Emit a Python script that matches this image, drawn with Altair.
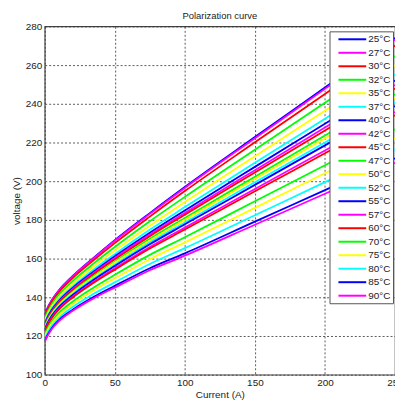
import altair as alt
import pandas as pd

# Current values (A) at which each curve was read
currents = [0, 2, 5, 10, 20, 35, 50, 75, 100, 150, 200, 250]

temps = ["25°C", "27°C", "30°C", "32°C", "35°C", "37°C", "40°C", "42°C", "45°C", "47°C",
         "50°C", "52°C", "55°C", "57°C", "60°C", "70°C", "75°C", "80°C", "85°C", "90°C"]

colors = ["#0000ff", "#ff00ff", "#ff0000", "#00ff00", "#ffff00", "#00ffff",
          "#0000ff", "#ff00ff", "#ff0000", "#00ff00", "#ffff00", "#00ffff",
          "#0000ff", "#ff00ff", "#ff0000", "#00ff00", "#ffff00", "#00ffff",
          "#0000ff", "#ff00ff"]

# Voltage (V) per temperature
v25 = [131.0, 134.5, 138.5, 143.5, 151.0, 160.5, 169.5, 183.5, 197.0, 222.8, 248.4, 274.0]
v27 = [130.8, 134.3, 138.3, 143.3, 150.8, 160.2, 169.2, 183.1, 196.5, 222.2, 247.7, 273.2]
v30 = [130.2, 133.6, 137.6, 142.5, 149.9, 159.2, 168.0, 181.7, 194.9, 220.1, 245.1, 270.1]
v32 = [129.0, 132.4, 136.3, 141.2, 148.4, 157.5, 166.0, 179.3, 191.9, 216.3, 240.5, 264.7]
v35 = [127.9, 131.3, 135.2, 140.0, 147.1, 155.9, 164.1, 177.0, 189.2, 212.9, 236.4, 259.9]
v37 = [126.9, 130.3, 134.1, 138.8, 145.7, 154.4, 162.3, 174.9, 186.6, 209.5, 232.3, 255.1]
v40 = [126.2, 129.6, 133.4, 138.0, 144.9, 153.3, 161.2, 173.4, 184.9, 207.4, 229.7, 252.0]
v42 = [125.7, 129.0, 132.8, 137.5, 144.2, 152.6, 160.3, 172.4, 183.6, 205.7, 227.7, 249.7]
v45 = [125.3, 128.6, 132.4, 137.0, 143.7, 152.0, 159.6, 171.6, 182.7, 204.5, 226.2, 247.9]
v47 = [124.7, 128.0, 131.7, 136.3, 142.9, 151.0, 158.4, 170.2, 181.0, 202.3, 223.6, 244.9]
v50 = [124.3, 127.6, 131.3, 135.8, 142.4, 150.4, 157.8, 169.4, 180.0, 201.1, 222.1, 243.1]
v52 = [123.8, 127.0, 130.7, 135.2, 141.7, 149.6, 156.8, 168.3, 178.7, 199.4, 220.0, 240.7]
v55 = [123.4, 126.6, 130.3, 134.8, 141.2, 149.1, 156.2, 167.4, 177.7, 198.1, 218.5, 238.9]
v57 = [122.7, 125.9, 129.6, 134.0, 140.3, 148.1, 155.0, 166.0, 176.0, 196.0, 215.9, 235.8]
v60 = [122.3, 125.5, 129.2, 133.6, 139.9, 147.5, 154.3, 165.2, 175.0, 194.8, 214.4, 234.1]
v70 = [120.8, 123.9, 127.5, 131.8, 137.8, 145.1, 151.6, 161.9, 171.0, 189.6, 208.2, 226.8]
v75 = [119.7, 122.8, 126.4, 130.6, 136.5, 143.6, 149.7, 159.7, 168.4, 186.2, 204.1, 222.0]
v80 = [118.5, 121.6, 125.1, 129.2, 135.0, 141.8, 147.7, 157.2, 165.4, 182.4, 199.5, 216.5]
v85 = [117.5, 120.5, 124.0, 128.1, 133.6, 140.2, 145.9, 155.0, 162.7, 179.1, 195.4, 211.8]
v90 = [117.0, 120.0, 123.5, 127.5, 133.0, 139.5, 145.0, 154.0, 161.5, 177.5, 193.5, 209.5]

series = [v25, v27, v30, v32, v35, v37, v40, v42, v45, v47,
          v50, v52, v55, v57, v60, v70, v75, v80, v85, v90]

rows = []
for t, vals in zip(temps, series):
    for i, v in zip(currents, vals):
        rows.append({"T": t, "I": i, "V": v})
df = pd.DataFrame(rows)

FONT = "Liberation Sans"

chart = alt.Chart(df).mark_line(strokeWidth=1.8, interpolate="monotone", clip=True).encode(
    x=alt.X("I:Q", title="Current (A)",
            scale=alt.Scale(domain=[0, 250], nice=False),
            axis=alt.Axis(values=[0, 50, 100, 150, 200, 250], labelFlush=False,
                          labelPadding=3, titlePadding=2)),
    y=alt.Y("V:Q", title="voltage (V)",
            scale=alt.Scale(domain=[100, 280], nice=False, zero=False),
            axis=alt.Axis(values=list(range(100, 281, 20)), labelPadding=3,
                          titlePadding=4)),
    color=alt.Color("T:N", sort=temps,
                    scale=alt.Scale(domain=temps, range=colors),
                    legend=alt.Legend(title=None, orient="none", legendX=287, legendY=5,
                                      symbolType="M0.2,0H5.8", symbolSize=100,
                                      symbolStrokeWidth=2, labelOffset=25,
                                      labelFontSize=10, labelFont=FONT, labelColor="#222",
                                      rowPadding=2.6, padding=2,
                                      strokeColor="#555", fillColor="white")),
    order=alt.Order("I:Q"),
).properties(
    width=353, height=351,
    title=alt.TitleParams("Polarization curve", font=FONT, fontSize=9.5,
                          fontWeight="normal", color="#222", offset=1),
    autosize=alt.AutoSizeParams(type="none"),
    padding={"left": 37, "top": 17, "right": 0, "bottom": 27},
).configure_view(
    stroke="#444", strokeWidth=1.2
).configure_axis(
    grid=True, gridColor="#333", gridDash=[2, 2], gridWidth=1, gridOpacity=0.8,
    domain=False, ticks=False,
    labelFont=FONT, labelFontSize=10, labelColor="#222",
    titleFont=FONT, titleFontSize=10, titleFontWeight="normal", titleColor="#222",
)

chart.save("out.html", embed_options={"renderer": "svg", "actions": False})
